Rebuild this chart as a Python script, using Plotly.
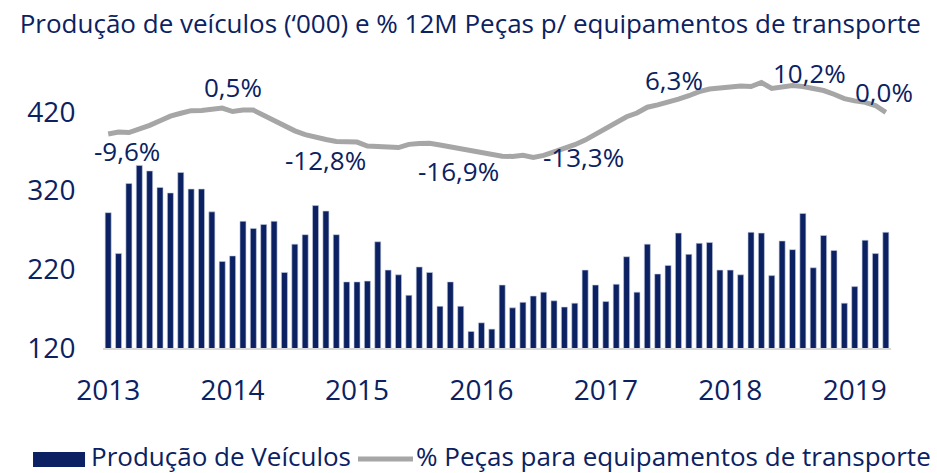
import plotly.graph_objects as go
import pandas as pd

# ---- data ----
months = [d.strftime("%Y-%m") for d in pd.date_range("2013-01-01", "2019-04-01", freq="MS")]

producao = [292, 240, 329, 352, 345, 324, 317, 343, 322, 322, 293, 230,
            237, 281, 272, 277, 281, 216, 252, 264, 301, 294, 264, 204,
            204, 205, 255, 219, 213, 187, 223, 216, 173, 204, 173, 141,
            152, 144, 200, 171, 178, 186, 191, 180, 172, 177, 219, 200,
            179, 201, 236, 191, 252, 214, 225, 266, 239, 253, 254, 219,
            219, 213, 267, 266, 212, 256, 245, 291, 222, 263, 244, 177,
            198, 257, 240, 267]

# gray curve (% 12M Peças p/ equipamentos de transporte), plotted on a hidden scale
pecas = [74.3, 75.0, 74.8, 76.0, 77.3, 78.9, 80.5, 81.5, 82.4, 82.5, 83.0, 83.3,
         82.1, 82.6, 82.6, 80.8, 79.0, 76.9, 75.4, 74.1, 73.1, 72.4, 71.7, 71.8,
         71.5, 70.1, 70.1, 69.8, 69.6, 70.7, 71.0, 71.1, 70.5, 69.9, 69.3, 68.7,
         68.0, 67.6, 66.6, 66.5, 66.9, 66.2, 66.9, 68.1, 69.3, 70.6, 72.2, 74.2,
         76.0, 78.0, 80.3, 81.6, 83.6, 84.4, 85.3, 86.4, 87.6, 89.0, 89.9, 90.2,
         90.9, 91.0, 90.8, 92.2, 90.1, 90.8, 91.1, 90.8, 90.3, 89.4, 88.1, 86.6,
         85.8, 85.3, 84.2, 81.8]

tick_months = ["2013-01", "2014-01", "2015-01", "2016-01", "2017-01", "2018-01", "2019-01"]
tick_labels = ["2013", "2014", "2015", "2016", "2017", "2018", "2019"]

label_texts = ["-9,6%", "0,5%", "-12,8%", "-16,9%", "-13,3%", "6,3%", "10,2%", "0,0%"]
label_months = ["2013-03", "2014-01", "2014-10", "2015-11", "2016-11", "2017-08", "2018-08", "2019-04"]
label_levels = [68.4, 90.6, 65.3, 61.5, 66.3, 93.1, 95.5, 88.9]
label_xshift = [-2, 0, 0, -2, -2, -4, 7, -2]

bar_name = "Produção de Veículos"
line_name = "% Peças para equipamentos de transporte"

NAVY = "#0B2161"
GRAY = "#A6A6A6"
FONT = "Open Sans"

fig = go.Figure()
fig.add_trace(go.Bar(x=months, y=producao, name=bar_name, showlegend=False,
                     marker=dict(color=NAVY, line=dict(color="#c5cde0", width=0.6))))
fig.add_trace(go.Scatter(x=months, y=pecas, name=line_name, showlegend=False,
                         mode="lines", line=dict(color=GRAY, width=5), yaxis="y2"))

for t, m, lv, xs in zip(label_texts, label_months, label_levels, label_xshift):
    fig.add_annotation(x=m, y=lv, yref="y2", text=t, showarrow=False, xshift=xs,
                       font=dict(family=FONT, size=26, color=NAVY))

# legend (drawn below the plot, Excel style)
fig.add_shape(type="rect", xref="paper", yref="paper", x0=-0.0888, x1=-0.0228,
              y0=-0.4132, y1=-0.3611, fillcolor=NAVY, line=dict(width=0))
fig.add_shape(type="line", xref="paper", yref="paper", x0=0.3236, x1=0.3934,
              y0=-0.3854, y1=-0.3854, line=dict(color=GRAY, width=5))
fig.add_annotation(xref="paper", yref="paper", x=-0.0178, y=-0.374, xanchor="left",
                   yanchor="middle", text=bar_name, showarrow=False,
                   font=dict(family=FONT, size=26, color=NAVY))
fig.add_annotation(xref="paper", yref="paper", x=0.3947, y=-0.374, xanchor="left",
                   yanchor="middle", text=line_name, showarrow=False,
                   font=dict(family=FONT, size=26, color=NAVY))

fig.update_layout(
    width=937, height=473,
    margin=dict(l=103, r=46, t=60, b=125, pad=0),
    paper_bgcolor="white", plot_bgcolor="white",
    font=dict(family=FONT, color=NAVY),
    title=dict(text="Produção de veículos (‘000) e % 12M Peças p/ equipamentos de transporte",
               x=0.021, xanchor="left", xref="container", y=0.949, yanchor="middle",
               font=dict(family=FONT, size=26, color=NAVY)),
    bargap=0.42,
    showlegend=False,
    xaxis=dict(type="category", tickmode="array", tickvals=tick_months, ticktext=tick_labels,
               range=[-0.5, len(months) - 0.5], automargin=False,
               showgrid=False, showline=True, linecolor="#D9D9D9", linewidth=2,
               ticks="outside", ticklen=16, tickcolor="rgba(0,0,0,0)", tickangle=0,
               tickfont=dict(family=FONT, size=28, color=NAVY)),
    yaxis=dict(range=[120, 486], tickvals=[120, 220, 320, 420], showgrid=False,
               zeroline=False, showline=False, automargin=False,
               ticks="outside", ticklen=21, tickcolor="rgba(0,0,0,0)",
               tickfont=dict(family=FONT, size=28, color=NAVY)),
    yaxis2=dict(overlaying="y", range=[0, 100], visible=False),
)

fig.write_html("out.html", config={"displayModeBar": False},
               post_script="document.body.style.margin='0';")
